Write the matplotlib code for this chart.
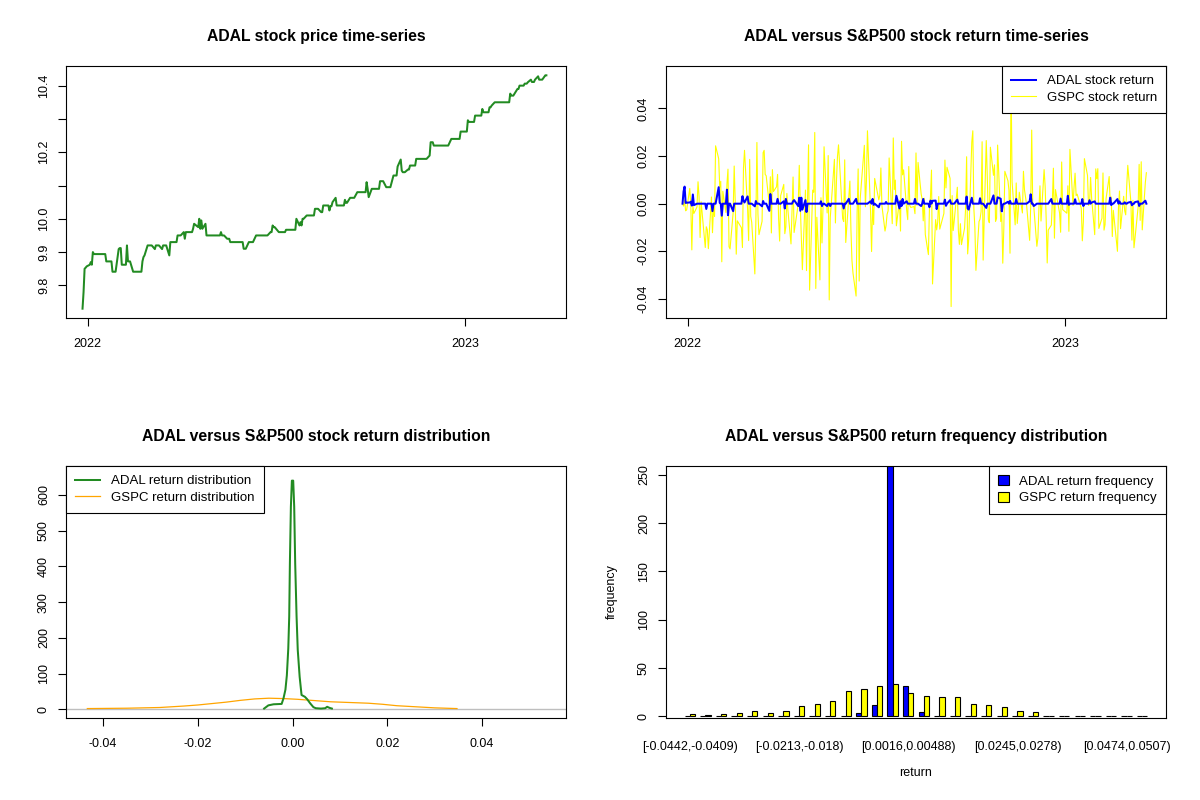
import numpy as np
import pandas as pd
import matplotlib
matplotlib.use("Agg")
import matplotlib.pyplot as plt
from matplotlib.patches import Patch
from matplotlib.lines import Line2D

plt.rcParams['font.family'] = ['Liberation Sans', 'DejaVu Sans']

# ---- trading calendar (NYSE closed days in range)
first_day = "2021-12-27"
last_day = "2023-03-21"
market_holidays = ["2022-01-17", "2022-02-21", "2022-04-15", "2022-05-30",
                   "2022-06-20", "2022-07-04", "2022-09-05", "2022-11-24",
                   "2022-12-26", "2023-01-02", "2023-01-16", "2023-02-20"]

# ---- ADAL price: dates where the close changed, and the new close
adal_change_dates = [
    "2021-12-27", "2021-12-28", "2021-12-29", "2021-12-30", "2021-12-31",
    "2022-01-03", "2022-01-04", "2022-01-05", "2022-01-06", "2022-01-07",
    "2022-01-19", "2022-01-25", "2022-01-31", "2022-02-01", "2022-02-03",
    "2022-02-08", "2022-02-09", "2022-02-14", "2022-02-23", "2022-02-24",
    "2022-02-25", "2022-02-28", "2022-03-07", "2022-03-08", "2022-03-14",
    "2022-03-15", "2022-03-21", "2022-03-22", "2022-03-29", "2022-04-04",
    "2022-04-05", "2022-04-06", "2022-04-13", "2022-04-14", "2022-04-18",
    "2022-04-19", "2022-04-20", "2022-04-21", "2022-04-22", "2022-04-25",
    "2022-04-26", "2022-05-10", "2022-05-11", "2022-05-16", "2022-05-19",
    "2022-06-01", "2022-06-06", "2022-06-13", "2022-06-27", "2022-06-29",
    "2022-06-30", "2022-07-05", "2022-07-12", "2022-07-22", "2022-07-25",
    "2022-07-26", "2022-07-27", "2022-07-28", "2022-08-01", "2022-08-09",
    "2022-08-15", "2022-08-17", "2022-08-23", "2022-08-24", "2022-08-26",
    "2022-08-29", "2022-08-30", "2022-09-07", "2022-09-08", "2022-09-12",
    "2022-09-19", "2022-09-28", "2022-09-29", "2022-09-30", "2022-10-03",
    "2022-10-11", "2022-10-17", "2022-10-24", "2022-10-28", "2022-10-31",
    "2022-11-01", "2022-11-02", "2022-11-07", "2022-11-09", "2022-11-15",
    "2022-11-28", "2022-11-29", "2022-12-02", "2022-12-19", "2022-12-28",
    "2023-01-04", "2023-01-05", "2023-01-11", "2023-01-18", "2023-01-19",
    "2023-01-25", "2023-01-27", "2023-01-30", "2023-02-14", "2023-02-15",
    "2023-02-21", "2023-02-23", "2023-02-28", "2023-03-03", "2023-03-06",
    "2023-03-07", "2023-03-10", "2023-03-13", "2023-03-14", "2023-03-20",
]
adal_change_prices = [
    9.730, 9.780, 9.850, 9.853, 9.857,
    9.862, 9.870, 9.862, 9.900, 9.894,
    9.872, 9.841, 9.909, 9.912, 9.862,
    9.920, 9.872, 9.841, 9.872, 9.885,
    9.890, 9.920, 9.909, 9.920, 9.909,
    9.920, 9.890, 9.930, 9.950, 9.960,
    9.940, 9.960, 9.970, 9.985, 9.975,
    10.000, 9.970, 9.995, 9.970, 9.985,
    9.950, 9.960, 9.950, 9.940, 9.930,
    9.910, 9.930, 9.950, 9.960, 9.980,
    9.975, 9.960, 9.967, 10.000, 9.980,
    9.990, 9.980, 10.000, 10.010, 10.030,
    10.020, 10.040, 10.025, 10.038, 10.050,
    10.063, 10.040, 10.057, 10.048, 10.063,
    10.080, 10.110, 10.090, 10.065, 10.090,
    10.113, 10.095, 10.130, 10.157, 10.178,
    10.145, 10.140, 10.148, 10.160, 10.180,
    10.190, 10.230, 10.220, 10.240, 10.262,
    10.296, 10.291, 10.310, 10.330, 10.320,
    10.335, 10.340, 10.350, 10.376, 10.370,
    10.390, 10.400, 10.406, 10.410, 10.418,
    10.411, 10.418, 10.428, 10.418, 10.431,
]

# ---- S&P500 daily returns in percent, 2021-12-28 .. 2023-03-21
gspc_ret_2021 = [-0.10, 0.14, -0.30, -0.26]
gspc_ret_2022 = [
    0.64, -0.06, -1.94, -0.10, -0.41, -0.14, 0.92, 0.28, -1.42, 0.08,
    -1.84, -0.97, -1.10, -1.89, 0.28, -1.22, -0.15, -0.54, 2.43, 1.89,
    0.69, 0.94, -2.44, 0.52, -0.37, 0.84, 1.45, -1.81, -1.90, -0.38,
    1.58, 0.09, -2.12, -0.72, -1.01, -1.84, 1.50, 2.24, -0.24,
    -1.55, 1.86, -0.53, -0.79, -2.95, -0.72, 2.57, -0.43, -1.30, -0.74,
    2.14, 2.24, 1.23, 1.17, -0.04, 1.13, -1.23, 1.43, 0.51, 0.71, 1.23, -0.63, -1.57,
    0.34, 0.81, -1.26, -0.97, 0.43, -0.27, -1.69, -0.34, 1.12, -1.21,
    -0.02, 1.61, -0.06, -1.48, -2.77, 0.57, -2.81, 0.21, 2.47, -3.63,
    0.57, 0.48, 2.99, -3.56, -0.57, -3.20, 0.25, -1.65, -0.13, 2.39,
    -0.39, 2.02, -4.04, -0.58, 0.01, 1.86, -0.81, 0.95, 1.99, 2.47, -0.63,
    -0.75, 1.84, -1.63, 0.31, 0.95, -1.08, -2.38, -2.91, -3.88, -0.38,
    1.46, -3.25, 0.22, 2.45, -0.13, 0.95, 3.06, -0.30, -2.01, -0.07, -0.88,
    1.06, 0.16, 0.36, 1.50, -0.08, -1.15, -0.92, -0.45, -0.30, 1.92,
    -0.84, 2.76, 0.59, 0.99, -0.93, 0.13, -1.15, 2.62, 1.21, 1.42,
    -0.28, -0.67, 1.56, -0.08, -0.16, -0.12, -0.42, 2.13, -0.07, 1.73, 0.40, 0.19,
    -0.72, 0.23, -1.29, -2.14, -0.22, 0.29, 1.41, -3.37, -0.67, -1.10, -0.78,
    0.30, -1.07, -0.41, 1.83, 0.66, 1.53, 1.06, -4.32, 0.34, -1.13, -0.72,
    0.69, -1.13, -1.71, -0.84, -1.72, -1.03, -0.21, 1.97, -2.11, -1.51,
    2.59, 3.06, -0.20, -1.02, -2.80, -0.75, -0.65, -0.33, 2.60, -2.37, 2.65,
    1.14, -0.67, -0.80, 2.37, 1.19, 1.63, -0.74, -0.61, 2.46, -0.75,
    -0.41, -2.50, -1.06, 1.36, 0.96, 0.56, -2.08, 5.54, 0.92, -0.89, 0.87,
    -0.83, -0.31, 0.48, -0.39, 1.36, 0.59, -0.03, -1.54, -0.16, 3.09,
    -0.09, -0.12, -1.79, -1.44, -0.19, 0.75, -0.73, 1.43, 0.73, -0.61, -2.49,
    -1.11, -0.90, 0.10, 1.49, -1.45, 0.59, -0.40, -1.20, 1.75, -0.25,
]
gspc_ret_2023 = [
    -0.40, 0.75, -1.16, 2.28, -0.08, 0.70, 1.28, 0.34, 0.40, -0.20,
    -1.56, -0.76, 1.89, 1.19, -0.07, -0.02, 1.10, 0.25, -1.30, 1.46,
    1.05, 1.47, -1.04, -0.61, 1.29, -1.11, -0.88, 0.22, 1.14, -0.03,
    0.28, -1.38, -0.28, -2.00, -0.16, 0.53, -1.05, 0.31, -0.30,
    -0.47, 0.76, 1.61, 0.07, -1.53, 0.14, -1.85, -1.45, -0.15, 1.65,
    -0.70, 1.76, -1.10, 0.89, 1.30,
]

# ---- density curves
adal_dens_x = [-0.0060, -0.0051, -0.0040, -0.0023, -0.0019, -0.0015, -0.0012,
               -0.0009, -0.0007, -0.00056, -0.00035, -0.00014, 0.00014, 0.00035,
               0.00056, 0.00085, 0.0011, 0.0015, 0.0019, 0.0026, 0.0031, 0.0037,
               0.0044, 0.0049, 0.0060, 0.0069, 0.0073, 0.0078, 0.0083]
adal_dens_y = [2, 11, 14, 15, 31, 55, 95, 170, 260, 408, 567, 640, 640, 567,
               408, 260, 166, 91, 40, 35, 28, 17, 6, 3, 2, 3, 7, 4, 2]
gspc_dens_x = [-0.0433, -0.035, -0.028, -0.023, -0.020, -0.017, -0.014, -0.011,
               -0.008, -0.005, -0.002, 0.001, 0.004, 0.008, 0.012, 0.016, 0.019,
               0.022, 0.026, 0.030, 0.0347]
gspc_dens_y = [2, 3, 5, 9, 12, 16, 20, 25, 29, 31, 30, 28, 25, 21, 19, 17, 14,
               10, 7, 4, 2]

# ---- return frequency table
bin_labels = [
    "[-0.0442,-0.0409)", "[-0.0409,-0.0377)", "[-0.0377,-0.0344)", "[-0.0344,-0.0311)",
    "[-0.0311,-0.0278)", "[-0.0278,-0.0246)", "[-0.0246,-0.0213)", "[-0.0213,-0.018)",
    "[-0.018,-0.0148)", "[-0.0148,-0.0115)", "[-0.0115,-0.00821)", "[-0.00821,-0.00494)",
    "[-0.00494,-0.00167)", "[-0.00167,0.0016)", "[0.0016,0.00488)", "[0.00488,0.00815)",
    "[0.00815,0.0114)", "[0.0114,0.0147)", "[0.0147,0.018)", "[0.018,0.0212)",
    "[0.0212,0.0245)", "[0.0245,0.0278)", "[0.0278,0.0311)", "[0.0311,0.0343)",
    "[0.0343,0.0376)", "[0.0376,0.0409)", "[0.0409,0.0441)", "[0.0441,0.0474)",
    "[0.0474,0.0507)", "[0.0507,0.054)",
]
adal_freq = [0, 0, 0, 0, 0, 0, 0, 0, 0, 0, 0, 3, 12, 259, 31, 4,
             0, 0, 0, 0, 0, 0, 0, 0, 0, 0, 0, 0, 0, 0]
gspc_freq = [2, 1, 2, 3, 5, 3, 5, 11, 13, 16, 26, 28, 31, 33, 24, 21,
             20, 20, 13, 12, 10, 6, 4, 0, 0, 0, 0, 0, 0, 0]

# ---- series
days = pd.bdate_range(first_day, last_day, freq="C", holidays=market_holidays)
adal_price = (pd.Series(adal_change_prices, index=pd.to_datetime(adal_change_dates))
              .reindex(days, method="ffill"))
adal_ret = adal_price.pct_change().fillna(0.0)
gspc_pct = gspc_ret_2021 + gspc_ret_2022 + gspc_ret_2023
assert len(gspc_pct) == len(days) - 1, (len(gspc_pct), len(days))
gspc_ret = pd.Series(np.r_[0.0, np.array(gspc_pct) / 100.0], index=days)

# ---- layout: 1200x800 px, four panels placed like R's mfrow=c(2,2)
W, H = 1200, 800
fig = plt.figure(figsize=(12, 8), dpi=100)


def panel(x0, y0, x1, y1):
    return fig.add_axes([x0 / W, 1 - y1 / H, (x1 - x0) / W, (y1 - y0) / H])


ax_tl = panel(66, 66, 566, 318)
ax_tr = panel(666, 66, 1166, 318)
ax_bl = panel(66, 466, 566, 718)
ax_br = panel(666, 466, 1166, 718)

TICK_FS = 9
TITLE_FS = 11.3
LEG_FS = 9.5
THICK = 1.45

for ax in (ax_tl, ax_tr, ax_bl, ax_br):
    for s in ax.spines.values():
        s.set_linewidth(0.8)
    ax.tick_params(direction="out", length=5.6, width=0.8, labelsize=TICK_FS)
    ax.tick_params(axis="x", pad=8.5)
    ax.tick_params(axis="y", pad=6)


def rot_y(ax):
    plt.setp(ax.get_yticklabels(), rotation=90, va="center", ha="right")


def r_legend(ax, handles, labels, loc, **kw):
    leg = ax.legend(handles, labels, loc=loc, fontsize=LEG_FS, fancybox=False,
                    framealpha=1, edgecolor="black", borderaxespad=0,
                    borderpad=0.7, labelspacing=0.3, handletextpad=0.8, **kw)
    leg.get_frame().set_linewidth(0.8)
    leg.set_zorder(5)
    return leg


date_lo = pd.Timestamp("2021-12-11")
date_hi = pd.Timestamp("2023-04-09")
year_ticks = [pd.Timestamp("2022-01-01"), pd.Timestamp("2023-01-01")]

# ---- top-left: price
ax_tl.plot(days, adal_price.values, color="#228B22", lw=THICK)
ax_tl.set_xlim(date_lo, date_hi)
ax_tl.set_ylim(9.702, 10.459)
ax_tl.set_xticks(year_ticks)
ax_tl.set_xticklabels(["2022", "2023"])
ax_tl.set_yticks([9.8, 9.9, 10.0, 10.1, 10.2, 10.3, 10.4])
ax_tl.set_yticklabels(["9.8", "9.9", "10.0", "", "10.2", "", "10.4"])
rot_y(ax_tl)
ax_tl.set_title("ADAL stock price time-series", fontsize=TITLE_FS,
                fontweight="bold", pad=18)

# ---- top-right: returns
ax_tr.plot(days, gspc_ret.values, color="yellow", lw=0.8, zorder=2)
ax_tr.plot(days, adal_ret.values, color="blue", lw=THICK, zorder=3)
ax_tr.set_xlim(date_lo, date_hi)
ax_tr.set_ylim(-0.048, 0.0578)
ax_tr.set_xticks(year_ticks)
ax_tr.set_xticklabels(["2022", "2023"])
ax_tr.set_yticks([-0.04, -0.02, 0.0, 0.02, 0.04])
ax_tr.set_yticklabels(["-0.04", "-0.02", "0.00", "0.02", "0.04"])
rot_y(ax_tr)
ax_tr.set_title("ADAL versus S&P500 stock return time-series", fontsize=TITLE_FS,
                fontweight="bold", pad=18)
r_legend(ax_tr,
         [Line2D([], [], color="blue", lw=THICK), Line2D([], [], color="yellow", lw=0.8)],
         ["ADAL stock return", "GSPC stock return"], "upper right",
         handlelength=1.9)

# ---- bottom-left: densities
ax_bl.axhline(0, color="#BEBEBE", lw=1.0, zorder=1)
ax_bl.plot(gspc_dens_x, gspc_dens_y, color="orange", lw=0.9, zorder=2)
ax_bl.plot(adal_dens_x, adal_dens_y, color="#228B22", lw=THICK, zorder=3)
ax_bl.set_xlim(-0.0478, 0.0577)
ax_bl.set_ylim(-24.4, 681)
ax_bl.set_xticks([-0.04, -0.02, 0.0, 0.02, 0.04])
ax_bl.set_xticklabels(["-0.04", "-0.02", "0.00", "0.02", "0.04"])
ax_bl.set_yticks([0, 100, 200, 300, 400, 500, 600])
rot_y(ax_bl)
ax_bl.set_title("ADAL versus S&P500 stock return distribution", fontsize=TITLE_FS,
                fontweight="bold", pad=18)
r_legend(ax_bl,
         [Line2D([], [], color="#228B22", lw=THICK), Line2D([], [], color="orange", lw=0.9)],
         ["ADAL return distribution", "GSPC return distribution"], "upper left",
         handlelength=1.9)

# ---- bottom-right: grouped bar chart of bin counts
n_bins = len(bin_labels)
group_mid = 2 + 3 * np.arange(n_bins)
ax_br.bar(group_mid - 0.5, adal_freq, width=1.0, color="blue",
          edgecolor="black", linewidth=0.8)
ax_br.bar(group_mid + 0.5, gspc_freq, width=1.0, color="yellow",
          edgecolor="black", linewidth=0.8)
span = 3 * n_bins - 1
ax_br.set_xlim(1 - 0.04 * span, 3 * n_bins + 0.04 * span)
ax_br.set_ylim(-1.75, 259)
show = list(range(0, n_bins, 7))
ax_br.set_xticks(group_mid[show])
ax_br.set_xticklabels([bin_labels[i] for i in show])
ax_br.tick_params(axis="x", length=0, pad=16.5)
ax_br.set_yticks([0, 50, 100, 150, 200, 250])
rot_y(ax_br)
ax_br.annotate("return", xy=(0.5, 0), xycoords="axes fraction",
               xytext=(0, -55 * 0.72), textcoords="offset points",
               ha="center", va="center", fontsize=TICK_FS)
ax_br.annotate("frequency", xy=(0, 0.5), xycoords="axes fraction",
               xytext=(-54 * 0.72, 0), textcoords="offset points",
               ha="center", va="center", rotation=90, fontsize=TICK_FS)
ax_br.set_title("ADAL versus S&P500 return frequency distribution",
                fontsize=TITLE_FS, fontweight="bold", pad=18)
r_legend(ax_br,
         [Patch(facecolor="blue", edgecolor="black", linewidth=0.8),
          Patch(facecolor="yellow", edgecolor="black", linewidth=0.8)],
         ["ADAL return frequency", "GSPC return frequency"], "upper right",
         handlelength=0.8, handleheight=0.8)

fig.savefig("out.png", dpi=100)
